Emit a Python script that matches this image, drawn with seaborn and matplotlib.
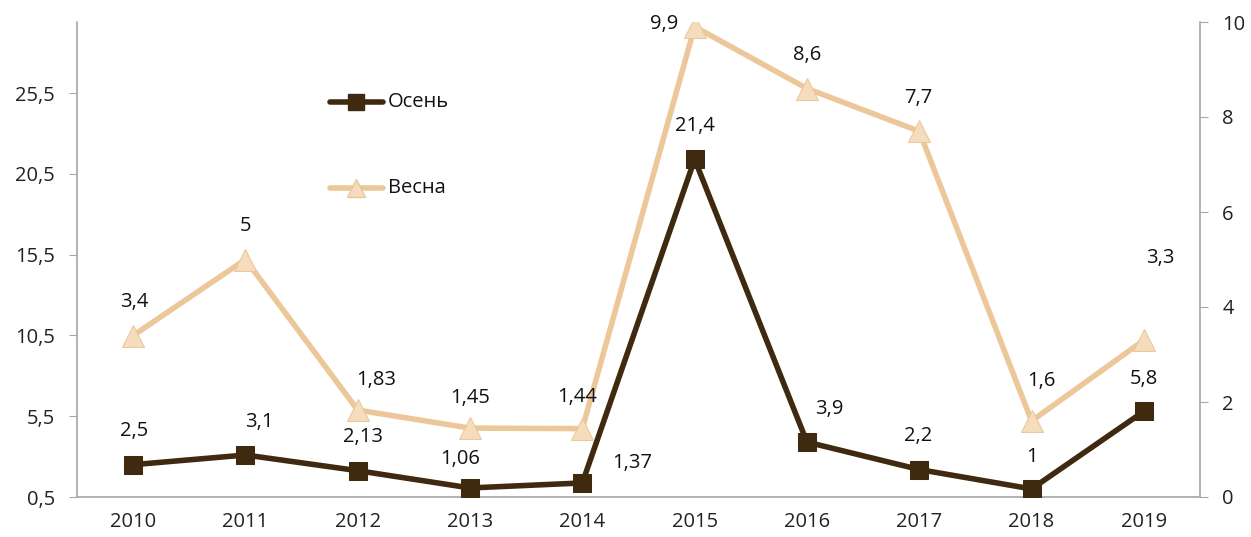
import matplotlib
matplotlib.use("Agg")
import matplotlib.pyplot as plt
import seaborn as sns
import pandas as pd
import numpy as np

years = ["2010", "2011", "2012", "2013", "2014", "2015", "2016", "2017", "2018", "2019"]
osen = [2.5, 3.1, 2.13, 1.06, 1.37, 21.4, 3.9, 2.2, 1.0, 5.8]
vesna = [3.4, 5.0, 1.83, 1.45, 1.44, 9.9, 8.6, 7.7, 1.6, 3.3]
osen_labels = ["2,5", "3,1", "2,13", "1,06", "1,37", "21,4", "3,9", "2,2", "1", "5,8"]
vesna_labels = ["3,4", "5", "1,83", "1,45", "1,44", "9,9", "8,6", "7,7", "1,6", "3,3"]
left_ticks = [0.5, 5.5, 10.5, 15.5, 20.5, 25.5]
right_ticks = [0, 2, 4, 6, 8, 10]

sns.set_style("white")
plt.rcParams["font.family"] = ["Open Sans", "DejaVu Sans"]
fs = 14.5

dark = "#3f2a10"
light = "#ecc799"
light_fill = "#f4dcbd"

df = pd.DataFrame({"x": np.arange(len(years)), "osen": osen, "vesna": vesna})

fig = plt.figure(figsize=(12.51, 5.37), dpi=100)
ax = fig.add_axes([77 / 1251, 1 - 497 / 537, (1200 - 77) / 1251, (497 - 22) / 537])
ax2 = ax.twinx()

sns.lineplot(data=df, x="x", y="osen", ax=ax, color=dark, linewidth=4,
             marker="s", markersize=13.5, markerfacecolor=dark, markeredgecolor=dark, zorder=3)
sns.lineplot(data=df, x="x", y="vesna", ax=ax2, color=light, linewidth=4,
             marker="^", markersize=16, markerfacecolor=light_fill, markeredgecolor=light)

ax.set_ylim(0.5, 29.9)
ax2.set_ylim(0, 10)
ax.set_xlim(-0.5, len(years) - 0.5)
ax.set_yticks(left_ticks)
ax.set_yticklabels([str(t).replace(".", ",") for t in left_ticks])
ax2.set_yticks(right_ticks)
ax.set_xticks(df["x"])
ax.set_xticklabels(years)
ax.set_xticks(np.arange(-0.5, len(years)), minor=True)
ax.set_xlabel("")
ax.set_ylabel("")
ax2.set_ylabel("")

for a in (ax, ax2):
    for s in a.spines.values():
        s.set_visible(False)
    a.tick_params(labelsize=fs, colors="#222222")
ax.spines["left"].set_visible(True)
ax.spines["bottom"].set_visible(True)
ax2.spines["right"].set_visible(True)
for s in (ax.spines["left"], ax.spines["bottom"], ax2.spines["right"]):
    s.set_color("#a6a6a6")
    s.set_linewidth(1.2)
ax.tick_params(axis="y", length=6, color="#a6a6a6", pad=10)
ax.tick_params(axis="x", which="major", length=0, pad=11)
ax.tick_params(axis="x", which="minor", length=7, color="#a6a6a6")
ax2.tick_params(axis="y", length=6, color="#a6a6a6", pad=10)

# data labels, offsets in points
osen_off = [(1, 24), (10, 24), (4, 24), (-7, 21), (36, 14), (0, 24), (16, 24), (-1, 24), (0, 23), (0, 23)]
vesna_off = [(1, 24), (0, 24), (13, 22), (0, 22), (-4, 23), (-22, 2), (0, 24), (-1, 24), (7, 29), (12, 59)]
for i in range(len(years)):
    ax.annotate(osen_labels[i], (i, osen[i]), xytext=osen_off[i], textcoords="offset points",
                ha="center", va="center", fontsize=fs, color="#111111")
    ax2.annotate(vesna_labels[i], (i, vesna[i]), xytext=vesna_off[i], textcoords="offset points",
                 ha="center", va="center", fontsize=fs, color="#111111")

# legend drawn in figure pixel coordinates
for y, col, mk, fc, lab in [(102, dark, "s", dark, "Осень"), (188, light, "^", light_fill, "Весна")]:
    yy = 1 - y / 537
    fig.add_artist(plt.Line2D([330 / 1251, 383 / 1251], [yy, yy], color=col, linewidth=4,
                              solid_capstyle="round", transform=fig.transFigure))
    fig.add_artist(plt.Line2D([356 / 1251], [yy], marker=mk, markersize=12 if mk == "s" else 13,
                              markerfacecolor=fc, markeredgecolor=col, linestyle="none",
                              transform=fig.transFigure))
    fig.text(388 / 1251, yy, lab, fontsize=fs, va="center", ha="left", color="#111111")

fig.savefig("out.png", dpi=100)
